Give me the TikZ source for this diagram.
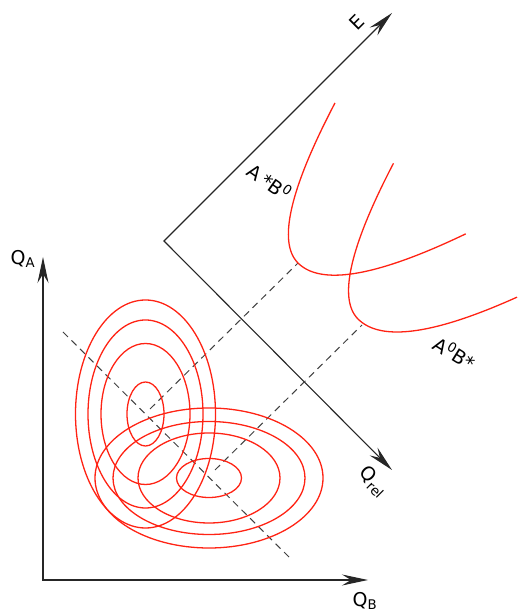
\documentclass[tikz,border=0pt]{standalone}
\usepackage{fontspec}
\setmainfont{DejaVu Sans}
\usetikzlibrary{arrows.meta}
\definecolor{curvered}{RGB}{255,35,20}
\begin{document}
\begin{tikzpicture}[x=1pt,y=1pt,
  axis/.style={line width=1.1pt, draw=black!85, {Stealth[length=26pt,width=11pt,inset=9pt]}-{Stealth[length=26pt,width=11pt,inset=9pt]}},
  guide/.style={line width=1pt, draw=black!75, dash pattern=on 7pt off 5pt},
  contour/.style={line width=1.3pt, draw=curvered},
  lbl/.style={font=\fontsize{19}{21}\selectfont, inner sep=0pt}]
\useasboundingbox (0,0) rectangle (517,610);
% axes
\coordinate (O) at (43,30);
\coordinate (QA) at (43,353);
\coordinate (QB) at (368,30);
\coordinate (C) at (164,369);
\coordinate (E) at (392,597);
\coordinate (Qrel) at (392,140);
\draw[axis] (QA) -- (O) -- (QB);
\draw[axis] (E) -- (C) -- (Qrel);
% centres and minima
\coordinate (cA) at (145.5,196);
\coordinate (cB) at (209,132);
\coordinate (m1) at (298,347);
\coordinate (m2) at (358,291);
% dashed guides
\coordinate (d1s) at (63,278);
\coordinate (d1e) at (292,50);
\coordinate (d2s) at (150,201);
\coordinate (d3s) at (215,140);
\coordinate (d3e) at (362,285);
\draw[guide] (d1s) -- (d1e);
\draw[guide] (d2s) -- (m1);
\draw[guide] (d3s) -- (d3e);
% contours, vertical family
\draw[contour] (cA) ellipse [x radius=18.5, y radius=32];
\draw[contour] (cA) ellipse [x radius=44.5, y radius=70.5];
\draw[contour] (cA) ellipse [x radius=57.5, y radius=94];
\draw[contour] (cA) ellipse [x radius=70, y radius=114];
% contours, horizontal family
\draw[contour] (cB) ellipse [x radius=32.5, y radius=19.5];
\draw[contour] (cB) ellipse [x radius=71, y radius=45];
\draw[contour] (cB) ellipse [x radius=96, y radius=56.5];
\draw[contour] (cB) ellipse [x radius=114, y radius=70];
% potential curves
\begin{scope}[shift={(m1)}, rotate=-45]
\draw[contour] plot[smooth, samples=40, domain=-87:0] (\x,{0.0184*\x*\x})
  -- plot[smooth, samples=40, domain=0:98] (\x,{0.0145*\x*\x});
\end{scope}
\begin{scope}[shift={(m2)}, rotate=-45]
\draw[contour] plot[smooth, samples=40, domain=-85:0] (\x,{0.0187*\x*\x})
  -- plot[smooth, samples=40, domain=0:97] (\x,{0.0136*\x*\x});
\end{scope}
% labels
\node[lbl] (lQA) at (23,351) {Q\textsubscript{A}};
\node[lbl] (lQB) at (365,9) {Q\textsubscript{B}};
\node[lbl, rotate=45] (lE) at (357,588) {E};
\node[lbl, rotate=-45] (lQrel) at (373,128) {Q\textsubscript{rel}};
\node[lbl, rotate=-35] (lAB) at (270,428) {A\,*B\textsuperscript{0}};
\node[lbl, rotate=-32] (lBA) at (455,257) {A\textsuperscript{0}B*};
\end{tikzpicture}
\end{document}
